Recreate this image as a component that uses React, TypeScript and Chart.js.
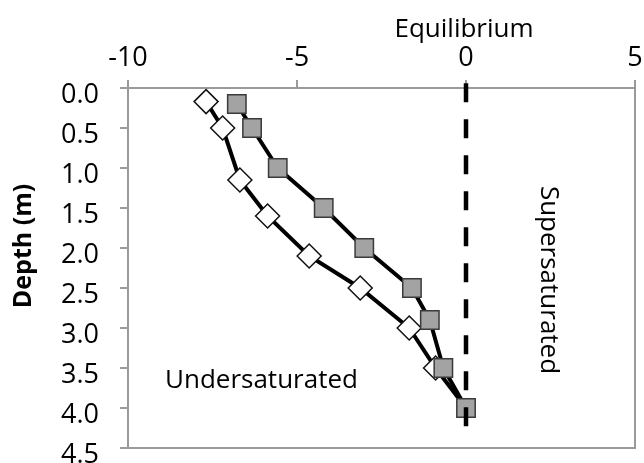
import React, { useEffect, useRef } from "react";
import { Chart, registerables } from "chart.js";

Chart.register(...registerables);

// ---- data ----
const squareDepths = [0.2, 0.5, 1.0, 1.5, 2.0, 2.5, 2.9, 3.5, 4.0];
const squareValues = [-6.78, -6.33, -5.57, -4.21, -3.01, -1.6, -1.07, -0.67, 0];
const diamondDepths = [0.17, 0.5, 1.15, 1.6, 2.1, 2.5, 3.0, 3.5, 4.0];
const diamondValues = [-7.69, -7.2, -6.69, -5.87, -4.64, -3.13, -1.68, -0.9, 0];
const equilibriumValues = [0, 0];
const equilibriumDepths = [-0.06, 4.25];
const xMin = -10;
const xMax = 5;
const xStep = 5;
const yMin = 0;
const yMax = 4.5;
const yStep = 0.5;
const yTitle = "Depth (m)";
const labelEquilibrium = "Equilibrium";
const labelUnder = "Undersaturated";
const labelSuper = "Supersaturated";

const FONT = "'Open Sans', sans-serif";
const AXIS_GRAY = "#9a9a9a";

const toPoints = (xs: number[], ys: number[]) => xs.map((x, i) => ({ x, y: ys[i] }));

const framePlugin = {
  id: "frameAndText",
  afterDatasetsDraw(chart: any) {
    const { ctx, chartArea, scales } = chart;
    ctx.save();
    // right & bottom frame
    ctx.strokeStyle = AXIS_GRAY;
    ctx.lineWidth = 2;
    ctx.beginPath();
    ctx.moveTo(chartArea.left, chartArea.bottom);
    ctx.lineTo(chartArea.right, chartArea.bottom);
    ctx.lineTo(chartArea.right, chartArea.top);
    ctx.stroke();

    ctx.fillStyle = "#000";
    // Equilibrium
    ctx.font = `26px ${FONT}`;
    ctx.textAlign = "center";
    ctx.textBaseline = "alphabetic";
    ctx.fillText(labelEquilibrium, scales.x.getPixelForValue(0) - 2, 37);
    // Undersaturated
    ctx.textAlign = "left";
    ctx.fillText(labelUnder, 165, 388);
    // Supersaturated (rotated)
    ctx.save();
    ctx.translate(541, 280);
    ctx.rotate(Math.PI / 2);
    ctx.textAlign = "center";
    ctx.fillText(labelSuper, 0, 0);
    ctx.restore();
    // Y title
    ctx.save();
    ctx.translate(31, 246);
    ctx.rotate(-Math.PI / 2);
    ctx.font = `bold 25px ${FONT}`;
    ctx.textAlign = "center";
    ctx.fillText(yTitle, 0, 0);
    ctx.restore();
    ctx.restore();
  },
};

export default function App() {
  const ref = useRef<HTMLCanvasElement | null>(null);
  useEffect(() => {
    document.body.style.margin = "0";
    const canvas = ref.current!;
    const lastDiamond = diamondValues.length - 1;
    const chart = new Chart(canvas, {
      type: "scatter",
      data: {
        datasets: [
          {
            label: "Equilibrium",
            data: toPoints(equilibriumValues, equilibriumDepths),
            showLine: true,
            borderColor: "#000",
            borderWidth: 4.5,
            borderDash: [19, 17],
            pointRadius: 0,
            clip: false as any,
          },
          {
            label: "Series A",
            data: toPoints(squareValues, squareDepths),
            showLine: true,
            borderColor: "#000",
            borderWidth: 4,
            pointStyle: "rect",
            pointRadius: 13,
            pointBackgroundColor: "#a3a3a3",
            pointBorderColor: "#3a3a3a",
            pointBorderWidth: 1.5,
            clip: false as any,
          },
          {
            label: "Series B",
            data: toPoints(diamondValues, diamondDepths),
            showLine: true,
            borderColor: "#000",
            borderWidth: 4,
            pointStyle: "rectRot",
            pointRadius: (c: any) => (c.dataIndex === lastDiamond ? 0 : 12),
            pointBackgroundColor: "#ffffff",
            pointBorderColor: "#111",
            pointBorderWidth: 1.5,
            clip: false as any,
          },
        ],
      },
      options: {
        animation: false,
        responsive: false,
        maintainAspectRatio: false,
        layout: { autoPadding: false, padding: { left: 0, top: 0, right: 9, bottom: 15 } } as any,
        plugins: { legend: { display: false }, tooltip: { enabled: false } },
        scales: {
          x: {
            type: "linear",
            position: "top",
            min: xMin,
            max: xMax,
            afterFit: (s: any) => {
              s.height = 88;
              s.paddingLeft = 0;
              s.paddingRight = 0;
            },
            ticks: {
              stepSize: xStep,
              color: "#000",
              padding: 5,
              font: { family: FONT, size: 27 },
              maxRotation: 0,
            },
            grid: {
              drawOnChartArea: false,
              drawTicks: true,
              tickLength: 8,
              color: AXIS_GRAY,
              lineWidth: 2,
            },
            border: { display: true, color: AXIS_GRAY, width: 2 },
          },
          y: {
            type: "linear",
            reverse: true,
            min: yMin,
            max: yMax,
            afterFit: (s: any) => {
              s.width = 128;
              s.paddingTop = 0;
              s.paddingBottom = 0;
            },
            ticks: {
              stepSize: yStep,
              color: "#000",
              padding: 21,
              labelOffset: 7,
              font: { family: FONT, size: 27 },
              callback: (v: any) => Number(v).toFixed(1),
            },
            grid: {
              drawOnChartArea: false,
              drawTicks: true,
              tickLength: 8,
              color: AXIS_GRAY,
              lineWidth: 2,
            },
            border: { display: true, color: AXIS_GRAY, width: 2 },
          },
        },
      },
      plugins: [framePlugin],
    });
    return () => chart.destroy();
  }, []);
  return (
    <div style={{ width: 644, height: 463, background: "#fff" }}>
      <canvas ref={ref} width={644} height={463} style={{ display: "block" }} />
    </div>
  );
}
